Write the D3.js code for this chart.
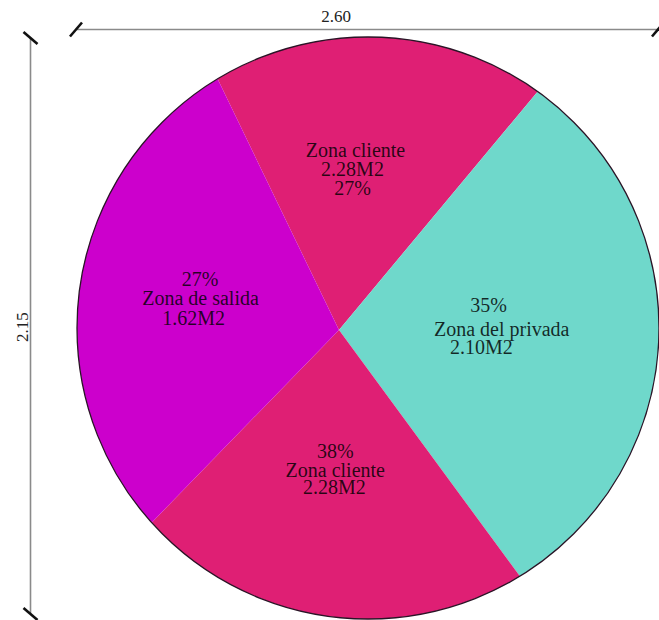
<!DOCTYPE html>
<html>
<head>
<meta charset="utf-8">
<script src="https://cdn.jsdelivr.net/npm/d3@7/dist/d3.min.js"></script>
<style>
  html, body { margin: 0; padding: 0; background: #fff; }
  svg { display: block; }
</style>
</head>
<body>
<svg id="chart" width="659" height="620"></svg>
<script>
// Zones of the plan, clockwise from the top
const zoneNames = ["Zona cliente", "Zona del privada", "Zona cliente", "Zona de salida"];
const zoneAreas = [2.28, 2.10, 2.28, 1.62];           // m2
const zonePercents = [27, 35, 38, 27];                  // as written on the plan
const zoneSweep = [65.6, 103.9, 80.5, 110.0];           // wedge opening, degrees
const zoneColors = ["#DF1F74", "#6FD8CB", "#DF1F74", "#CC00CC"];

// Overall dimensions (m)
const widthDim = 2.60;
const heightDim = 2.15;

// Order of the text lines inside each wedge (wedge order)
const lineOrder = [
  ["name", "area", "pct"],
  ["pct", "name", "area"],
  ["pct", "name", "area"],
  ["pct", "name", "area"]
];

const serif = "'Liberation Serif', 'DejaVu Serif', 'Times New Roman', serif";
const svg = d3.select("#chart");

// Geometry of the drawing
const outline = { cx: 368, cy: 328, r: 291 };
const vertex = { x: 339, y: 330 };
const startDeg = -25.8;

// Dimension lines
const dimColor = "#8a8a8a";
const hDim = { x1: 76, x2: 662, y: 29.5 };
const vDim = { x: 30.5, y1: 37, y2: 614 };

svg.append("line")
  .attr("x1", hDim.x1).attr("x2", hDim.x2)
  .attr("y1", hDim.y).attr("y2", hDim.y)
  .attr("stroke", dimColor).attr("stroke-width", 1.6);
svg.append("line")
  .attr("x1", vDim.x).attr("x2", vDim.x)
  .attr("y1", vDim.y1).attr("y2", vDim.y2)
  .attr("stroke", dimColor).attr("stroke-width", 1.6);

// Oblique end ticks
function tick(x, y, dx, dy) {
  svg.append("line")
    .attr("x1", x - dx).attr("y1", y - dy)
    .attr("x2", x + dx).attr("y2", y + dy)
    .attr("stroke", "#111").attr("stroke-width", 2.6)
    .attr("stroke-linecap", "butt");
}
tick(hDim.x1, hDim.y, 6, -7);
tick(658, hDim.y, 6, -7);
tick(vDim.x, vDim.y1 + 1, 7, 6);
tick(vDim.x, vDim.y2, 7, 6);

svg.append("text")
  .attr("x", 336).attr("y", 22)
  .attr("text-anchor", "middle")
  .attr("font-family", serif)
  .attr("font-size", 17)
  .attr("fill", "#222")
  .text(widthDim.toFixed(2));

svg.append("text")
  .attr("transform", `translate(28,${327}) rotate(-90)`)
  .attr("text-anchor", "middle")
  .attr("font-family", serif)
  .attr("font-size", 17)
  .attr("fill", "#222")
  .text(heightDim.toFixed(2));

// Wedges: d3.pie on the sweep angles, cut by the outline circle
const deg = Math.PI / 180;
const pie = d3.pie().sort(null).value(d => d)
  .startAngle(startDeg * deg)
  .endAngle((startDeg + 360) * deg);
const arcs = pie(zoneSweep);
const arc = d3.arc().innerRadius(0).outerRadius(800);

svg.append("clipPath").attr("id", "plate")
  .append("circle")
  .attr("cx", outline.cx).attr("cy", outline.cy).attr("r", outline.r);

svg.append("g")
  .attr("clip-path", "url(#plate)")
  .append("g")
  .attr("transform", `translate(${vertex.x},${vertex.y})`)
  .selectAll("path")
  .data(arcs)
  .join("path")
  .attr("d", arc)
  .attr("fill", (d, i) => zoneColors[i]);

svg.append("circle")
  .attr("cx", outline.cx).attr("cy", outline.cy).attr("r", outline.r)
  .attr("fill", "none")
  .attr("stroke", "#2a1426")
  .attr("stroke-width", 1.3);

// Labels: baseline centre of each text line, wedge order
const labelPlaces = [
  [[355.5, 156.7], [352.5, 175.5], [352.5, 194.5]],
  [[488.7, 312.3], [501.7, 335.8], [481.3, 354.3]],
  [[335.3, 457.7], [335.3, 476.7], [334.3, 494.3]],
  [[200, 286], [200.5, 305], [193.7, 325]]
];

zoneNames.forEach((name, i) => {
  const texts = {
    name: name,
    area: zoneAreas[i].toFixed(2) + "M2",
    pct: zonePercents[i] + "%"
  };
  lineOrder[i].forEach((key, j) => {
    svg.append("text")
      .attr("x", labelPlaces[i][j][0])
      .attr("y", labelPlaces[i][j][1])
      .attr("text-anchor", "middle")
      .attr("font-family", serif)
      .attr("font-size", 20)
      .attr("fill", "#000")
      .attr("fill-opacity", 0.82)
      .text(texts[key]);
  });
});
</script>
</body>
</html>
